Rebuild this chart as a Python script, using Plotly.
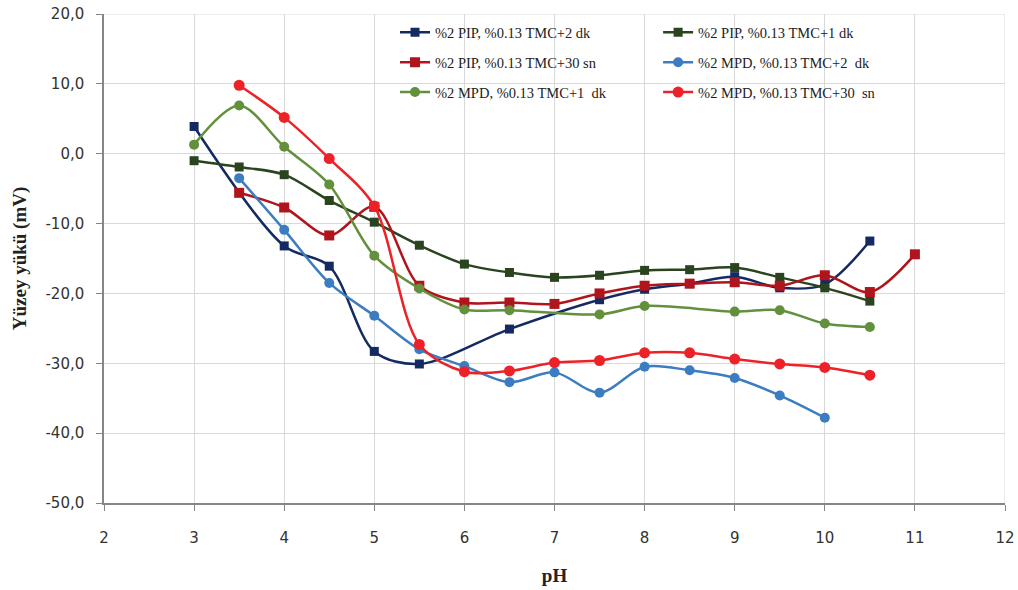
import plotly.graph_objects as go

# ---- data ----
names = [
    "%2 PIP, %0.13 TMC+2 dk",
    "%2 PIP, %0.13 TMC+1 dk",
    "%2 PIP, %0.13 TMC+30 sn",
    "%2 MPD, %0.13 TMC+2  dk",
    "%2 MPD, %0.13 TMC+1  dk",
    "%2 MPD, %0.13 TMC+30  sn",
]

x_pip2 = [3, 4, 4.5, 5, 5.5, 6.5, 7.5, 8, 8.5, 9, 9.5, 10, 10.5]
y_pip2 = [3.9, -13.2, -16.1, -28.3, -30.1, -25.1, -20.9, -19.4, -18.6, -17.6, -19.2, -18.7, -12.5]

x_pip1 = [3, 3.5, 4, 4.5, 5, 5.5, 6, 6.5, 7, 7.5, 8, 8.5, 9, 9.5, 10, 10.5]
y_pip1 = [-1.0, -1.9, -3.0, -6.7, -9.8, -13.1, -15.8, -17.0, -17.7, -17.4, -16.7, -16.6, -16.3, -17.7, -19.2, -21.1]

x_pip30 = [3.5, 4, 4.5, 5, 5.5, 6, 6.5, 7, 7.5, 8, 8.5, 9, 9.5, 10, 10.5, 11]
y_pip30 = [-5.6, -7.7, -11.7, -7.6, -18.9, -21.3, -21.3, -21.5, -20.0, -18.9, -18.6, -18.4, -18.9, -17.4, -19.8, -14.4]

x_mpd2 = [3.5, 4, 4.5, 5, 5.5, 6, 6.5, 7, 7.5, 8, 8.5, 9, 9.5, 10]
y_mpd2 = [-3.5, -10.9, -18.5, -23.2, -28.0, -30.4, -32.7, -31.3, -34.2, -30.5, -31.0, -32.1, -34.6, -37.8]

x_mpd1 = [3, 3.5, 4, 4.5, 5, 5.5, 6, 6.5, 7.5, 8, 9, 9.5, 10, 10.5]
y_mpd1 = [1.3, 6.9, 1.0, -4.4, -14.6, -19.3, -22.3, -22.4, -23.0, -21.8, -22.6, -22.4, -24.3, -24.8]

x_mpd30 = [3.5, 4, 4.5, 5, 5.5, 6, 6.5, 7, 7.5, 8, 8.5, 9, 9.5, 10, 10.5]
y_mpd30 = [9.8, 5.2, -0.7, -7.5, -27.3, -31.2, -31.1, -29.9, -29.6, -28.5, -28.5, -29.4, -30.1, -30.6, -31.7]

x_ticks = [2, 3, 4, 5, 6, 7, 8, 9, 10, 11, 12]
y_ticks = [20, 10, 0, -10, -20, -30, -40, -50]
y_ticktext = ["20,0", "10,0", "0,0", "-10,0", "-20,0", "-30,0", "-40,0", "-50,0"]

# ---- styles ----
series = [
    (x_pip2, y_pip2, "#142a63", "square", 9, "legend"),
    (x_pip1, y_pip1, "#2b4420", "square", 9, "legend2"),
    (x_pip30, y_pip30, "#b0141c", "square", 10, "legend"),
    (x_mpd2, y_mpd2, "#3b7dc0", "circle", 10, "legend2"),
    (x_mpd1, y_mpd1, "#62903c", "circle", 10, "legend"),
    (x_mpd30, y_mpd30, "#ec2228", "circle", 11, "legend2"),
]

GRID = "#d9d9d9"

fig = go.Figure()
for i, (xs, ys, col, sym, sz, lg) in enumerate(series):
    fig.add_trace(go.Scatter(
        x=xs, y=ys, name=names[i], mode="lines+markers",
        line=dict(color=col, width=2.5, shape="spline", smoothing=0.9),
        marker=dict(color=col, symbol=sym, size=sz),
        legend=lg, legendgroup="g%d" % i,
    ))

legend_common = dict(
    bgcolor="rgba(255,255,255,0)",
    font=dict(family="Liberation Serif", size=14.5, color="#222"),
    traceorder="grouped", tracegroupgap=8,
    xanchor="left", yanchor="top",
    itemwidth=30,
)

# outer gridlines at the top and right edges of the plot area
fig.add_shape(type="line", xref="paper", yref="y", x0=0, x1=1,
              y0=max(y_ticks), y1=max(y_ticks), line=dict(color=GRID, width=1), layer="below")
fig.add_shape(type="line", xref="x", yref="paper", x0=max(x_ticks), x1=max(x_ticks),
              y0=0, y1=1, line=dict(color=GRID, width=1), layer="below")

fig.update_layout(
    width=1018, height=590,
    margin=dict(l=104, r=13, t=14, b=87),
    paper_bgcolor="white", plot_bgcolor="white",
    showlegend=True,
    legend=dict(x=0.323, y=0.995, **legend_common),
    legend2=dict(x=0.615, y=0.995, **legend_common),
    xaxis=dict(
        range=[2, 12], tickvals=x_ticks, ticktext=[str(v) for v in x_ticks],
        showgrid=True, gridcolor=GRID, gridwidth=1,
        showline=True, linecolor="#868686", linewidth=1.5,
        ticks="outside", ticklen=6, tickcolor="#868686",
        ticklabelstandoff=14, ticklabeloverflow="allow",
        tickfont=dict(family="DejaVu Sans", size=15, color="#333"),
        zeroline=False, automargin=False,
        title=dict(text="<b>pH</b>", font=dict(family="Liberation Serif", size=19, color="#222"), standoff=23),
    ),
    yaxis=dict(
        range=[-50, 20], tickvals=y_ticks, ticktext=y_ticktext,
        showgrid=True, gridcolor=GRID, gridwidth=1,
        showline=True, linecolor="#868686", linewidth=1.5,
        ticks="outside", ticklen=6, tickcolor="#868686",
        ticklabelstandoff=9, ticklabeloverflow="allow",
        tickfont=dict(family="DejaVu Sans", size=15, color="#333"),
        zeroline=False, automargin=False,
        title=dict(text="<b>Yüzey yükü (mV)</b>", font=dict(family="Liberation Serif", size=19, color="#222"), standoff=14),
    ),
)

# remove the default 8px page margin so the figure sits at the window's corner
fig.write_html("out.html", config={"displayModeBar": False},
               post_script="document.body.style.margin='0';")
